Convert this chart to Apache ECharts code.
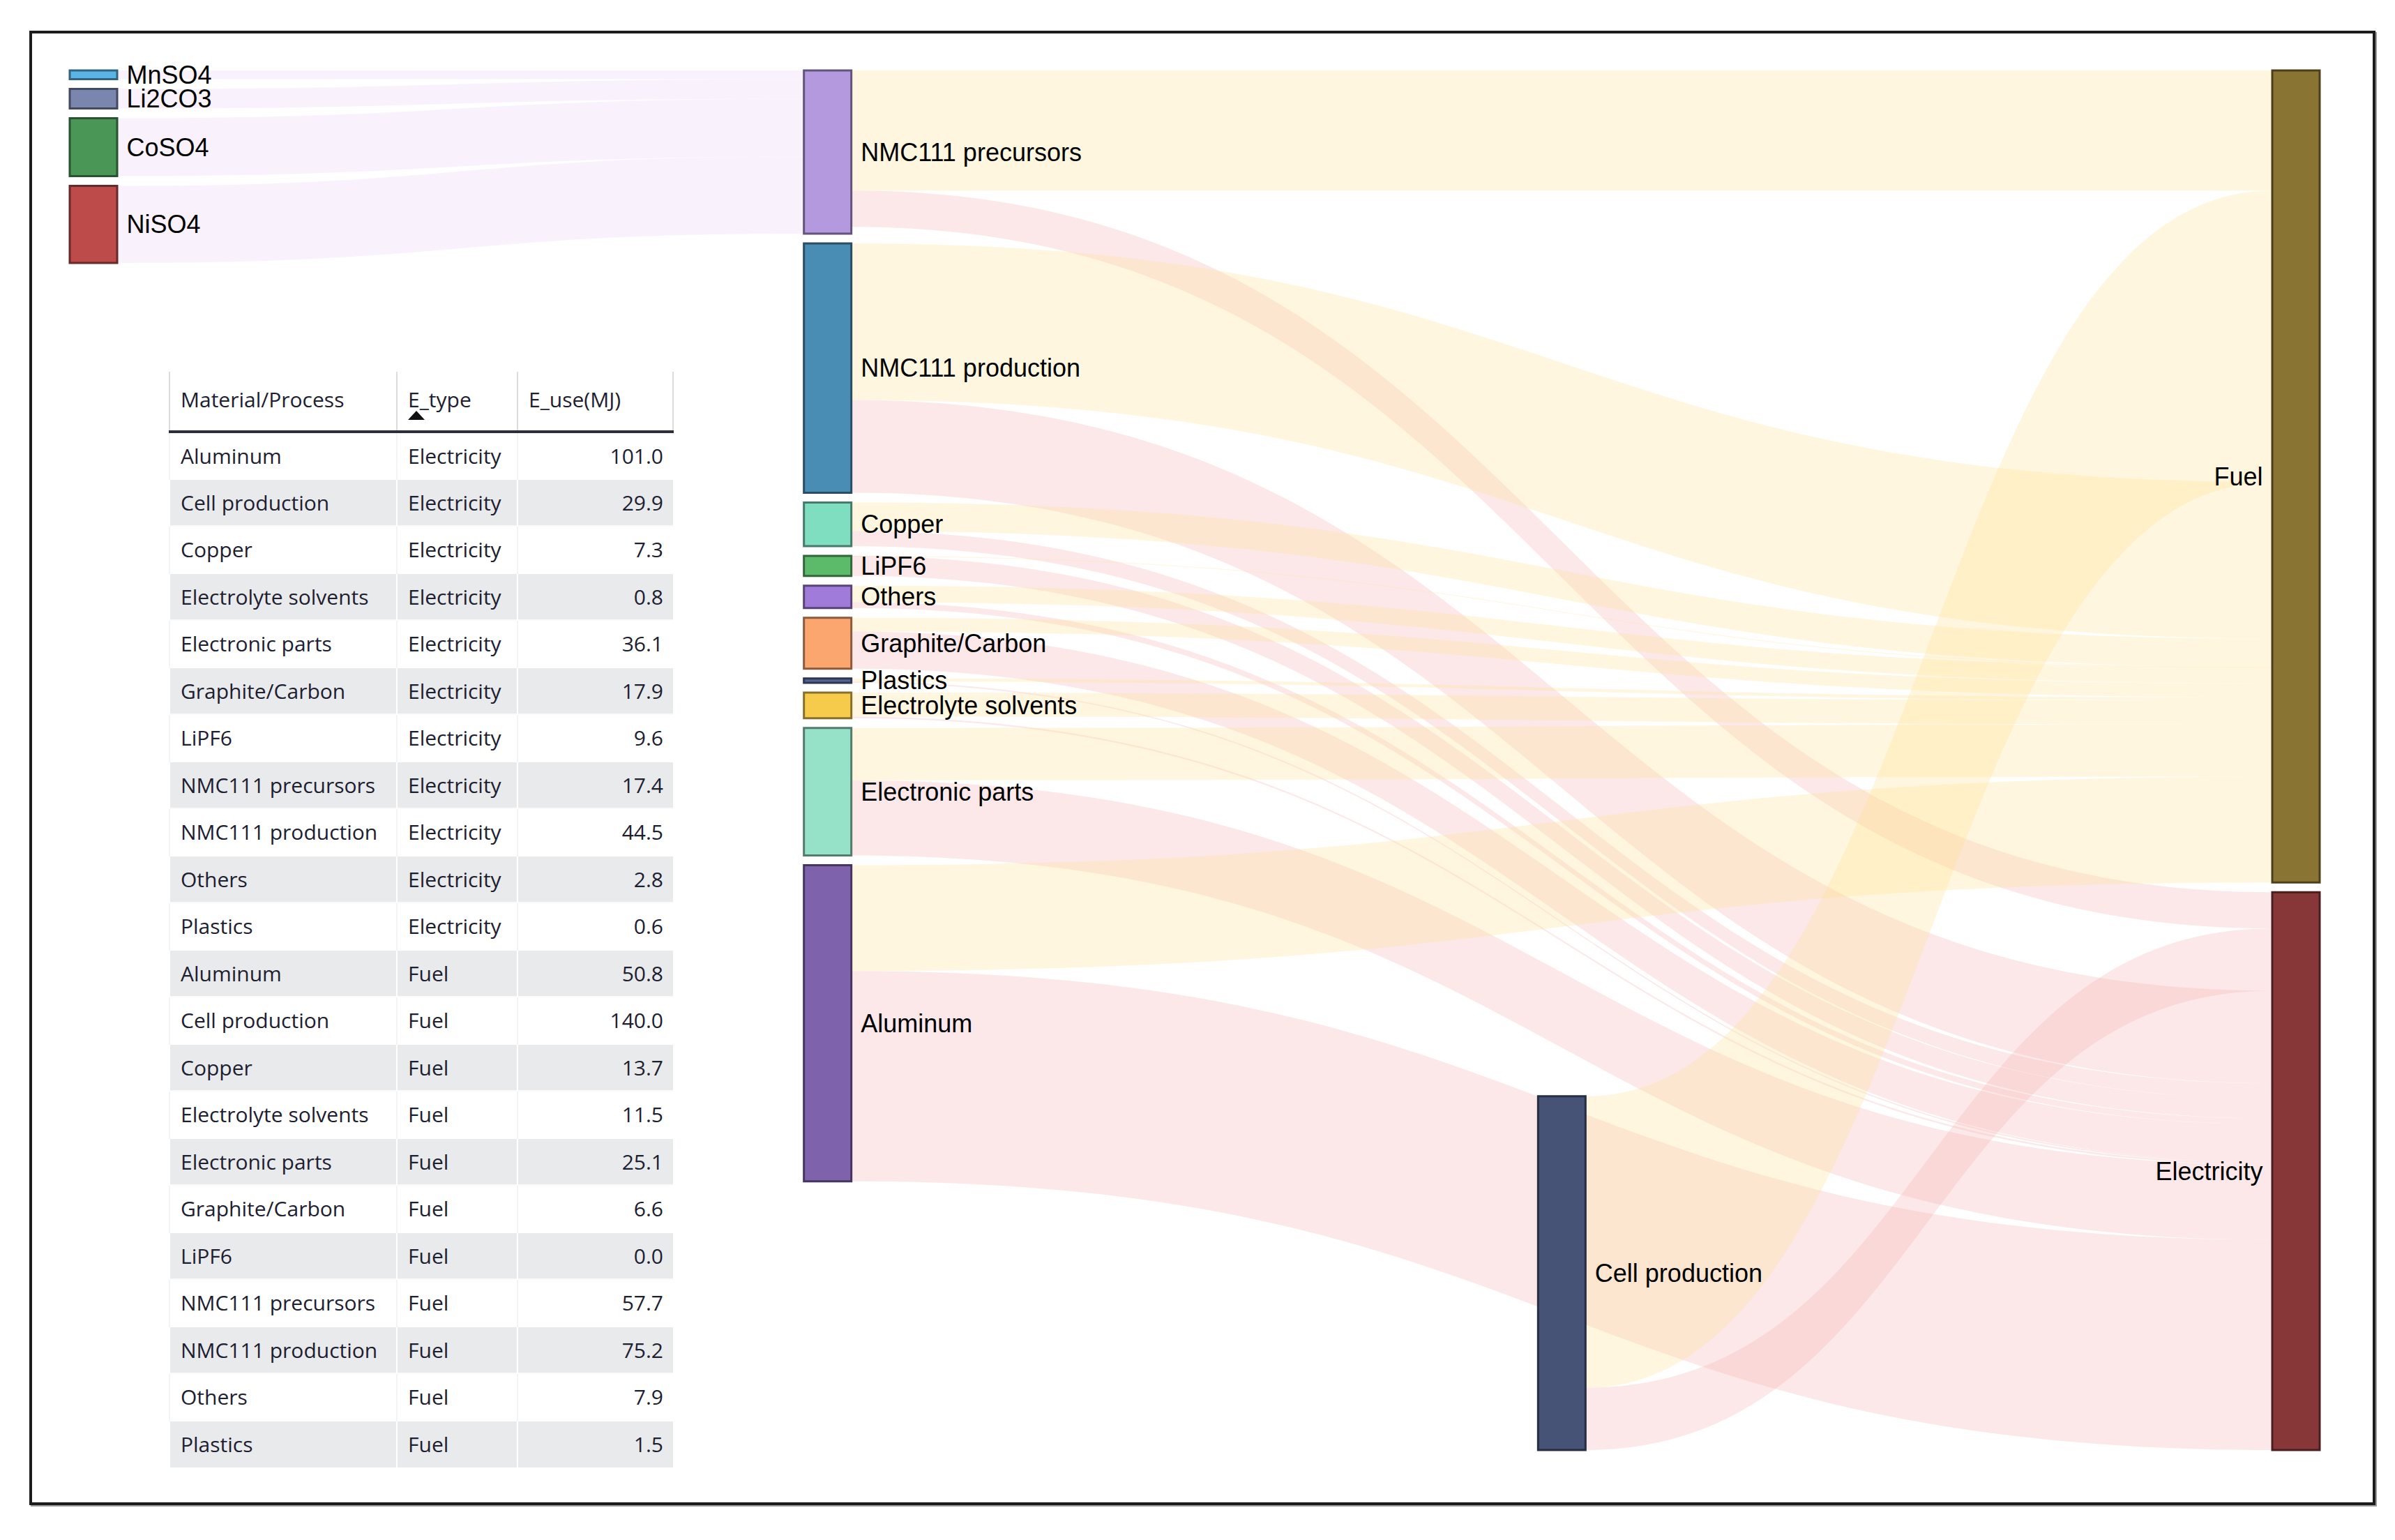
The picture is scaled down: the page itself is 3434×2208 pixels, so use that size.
<!DOCTYPE html>
<html>
<head>
<meta charset="utf-8">
<script src="https://cdn.jsdelivr.net/npm/echarts@6/dist/echarts.min.js"></script>
<style>
html, body { margin: 0; padding: 0; background: #ffffff; }
#chart { position: absolute; left: 0; top: 0; width: 3434px; height: 2208px; }
#frame { position: absolute; left: 42px; top: 44px; width: 3364px; height: 2114px; box-sizing: border-box;
  border: 4px solid #1c1c1c; box-shadow: 2px 2px 0 #9a9a9a; pointer-events: none; }
#tbl { position: absolute; left: 242px; top: 533px; width: 722px; border-collapse: collapse; table-layout: fixed;
  font-family: 'Open Sans', 'Noto Sans', sans-serif; font-size: 30px; color: #1d2030; background: #fff; }
#tbl th { box-sizing: border-box; height: 86px; font-weight: normal; text-align: left; padding: 0 0 6px 15px; vertical-align: middle;
  border-left: 2px solid #dcdcdc; border-right: 2px solid #dcdcdc; border-bottom: 4px solid #2a2f3a; position: relative; }
#tbl th .sort { position: absolute; left: 15px; top: 56px; width: 0; height: 0;
  border-left: 12px solid transparent; border-right: 12px solid transparent; border-bottom: 13px solid #111; }
#tbl td { height: 67.5px; padding: 0 15px; white-space: nowrap; overflow: hidden; box-sizing: border-box;
  border-left: 2px solid #f4f4f4; border-top: 2px solid #fafafa; }
#tbl td.num { text-align: right; padding-right: 14px; }
#tbl tr.alt td { background: #e9eaec; border-left-color: #ffffff; border-top-color: #ffffff; }
</style>
</head>
<body>
<div id="chart"></div>
<table id="tbl">
  <colgroup><col style="width:326px"><col style="width:173px"><col style="width:223px"></colgroup>
  <thead><tr id="hdr"></tr></thead>
  <tbody id="tbody"></tbody>
</table>
<div id="frame"></div>
<script>
// ---------------- data ----------------
const precursorInputs = ['MnSO4', 'Li2CO3', 'CoSO4', 'NiSO4'];
const precursorInputMJ = [4.2, 9.4, 27.8, 37.0];

const materials = ['Aluminum', 'Cell production', 'Copper', 'Electrolyte solvents', 'Electronic parts',
  'Graphite/Carbon', 'LiPF6', 'NMC111 precursors', 'NMC111 production', 'Others', 'Plastics'];
const electricityMJ = [101.0, 29.9, 7.3, 0.8, 36.1, 17.9, 9.6, 17.4, 44.5, 2.8, 0.6];
const fuelMJ = [50.8, 140.0, 13.7, 11.5, 25.1, 6.6, 0.0, 57.7, 75.2, 7.9, 1.5];
const energyTypes = ['Electricity', 'Fuel'];

const tableHeaders = ['Material/Process', 'E_type', 'E_use(MJ)'];

// column membership of the sankey nodes (top-to-bottom order)
const stageOrder = ['NMC111 precursors', 'NMC111 production', 'Copper', 'LiPF6', 'Others',
  'Graphite/Carbon', 'Plastics', 'Electrolyte solvents', 'Electronic parts', 'Aluminum'];
const assemblyStage = ['Cell production'];
const sinkOrder = ['Fuel', 'Electricity'];

// ---------------- styles ----------------
const nodeColors = {
  'MnSO4': '#5bb4e6', 'Li2CO3': '#7a86ad', 'CoSO4': '#4a9657', 'NiSO4': '#bd4b4a',
  'NMC111 precursors': '#b499df', 'NMC111 production': '#4a8db4', 'Copper': '#7fdec0',
  'LiPF6': '#5cbb6b', 'Others': '#a07bd9', 'Graphite/Carbon': '#fca66f', 'Plastics': '#536392',
  'Electrolyte solvents': '#f6cb4c', 'Electronic parts': '#96e2c8', 'Aluminum': '#7f62ac',
  'Cell production': '#465377', 'Fuel': '#8a7433', 'Electricity': '#873737'
};
const linkColors = { 'Fuel': 'rgb(255,226,150)', 'Electricity': 'rgb(246,180,180)', 'NMC111 precursors': 'rgb(236,212,248)' };

function darken(hex, f) {
  const n = parseInt(hex.slice(1), 16);
  const r = Math.round(((n >> 16) & 255) * f), g = Math.round(((n >> 8) & 255) * f), b = Math.round((n & 255) * f);
  return 'rgb(' + r + ',' + g + ',' + b + ')';
}

// ---------------- table ----------------
const hdr = document.getElementById('hdr');
tableHeaders.forEach(function (h, i) {
  const th = document.createElement('th');
  th.textContent = h;
  if (i === 1) { const s = document.createElement('span'); s.className = 'sort'; th.appendChild(s); }
  hdr.appendChild(th);
});
const tbody = document.getElementById('tbody');
let rowIdx = 0;
energyTypes.forEach(function (et) {
  const vals = et === 'Electricity' ? electricityMJ : fuelMJ;
  materials.forEach(function (m, k) {
    const tr = document.createElement('tr');
    if (rowIdx % 2 === 1) tr.className = 'alt';
    [m, et, vals[k].toFixed(1)].forEach(function (t, c) {
      const td = document.createElement('td');
      td.textContent = t;
      if (c === 2) td.className = 'num';
      tr.appendChild(td);
    });
    tbody.appendChild(tr);
    rowIdx++;
  });
});

// ---------------- sankey ----------------
const layoutBox = { left: 100, top: 101, right: 108, bottom: 129 };
const nodeGap = 14, nodeWidth = 68;
const H = 2208 - layoutBox.top - layoutBox.bottom;

const columns = [precursorInputs, stageOrder, assemblyStage, sinkOrder];

const links = [];
precursorInputs.forEach(function (n, i) {
  links.push({ source: n, target: 'NMC111 precursors', value: precursorInputMJ[i] });
});
stageOrder.concat(assemblyStage).forEach(function (src) {
  const k = materials.indexOf(src);
  links.push({ source: src, target: 'Fuel', value: fuelMJ[k] });
  links.push({ source: src, target: 'Electricity', value: electricityMJ[k] });
});
links.forEach(function (l) {
  l.lineStyle = { color: linkColors[l.target], opacity: 0.3, curveness: 0.5 };
});

// node values (max of in/out) to find the library's vertical scale, so Cell production sits flush at the bottom
function nodeValue(name) {
  let i = 0, o = 0;
  links.forEach(function (l) { if (l.target === name) i += l.value; if (l.source === name) o += l.value; });
  return Math.max(i, o);
}
let ky = Infinity;
columns.forEach(function (col) {
  const s = col.reduce(function (a, n) { return a + nodeValue(n); }, 0);
  ky = Math.min(ky, (H - (col.length - 1) * nodeGap) / s);
});

const nodes = [];
columns.forEach(function (col, d) {
  col.forEach(function (name) {
    const item = {
      name: name, depth: d,
      itemStyle: { color: nodeColors[name], borderColor: darken(nodeColors[name], 0.55), borderWidth: 3 },
      label: { position: d === 3 ? 'left' : 'right' }
    };
    if (d === 2) item.localY = (H - nodeValue(name) * ky) / H;
    nodes.push(item);
  });
});

const chart = echarts.init(document.getElementById('chart'), null, { renderer: 'svg' });
chart.setOption({
  backgroundColor: '#ffffff',
  animation: false,
  series: [{
    type: 'sankey',
    left: layoutBox.left, top: layoutBox.top, right: layoutBox.right, bottom: layoutBox.bottom,
    nodeWidth: nodeWidth,
    nodeGap: nodeGap,
    layoutIterations: 0,
    nodeAlign: 'justify',
    draggable: false,
    emphasis: { disabled: true },
    label: { color: '#000000', fontFamily: "'Liberation Sans', Arial, sans-serif", fontSize: 36, distance: 12 },
    data: nodes,
    links: links
  }]
});
</script>
</body>
</html>
